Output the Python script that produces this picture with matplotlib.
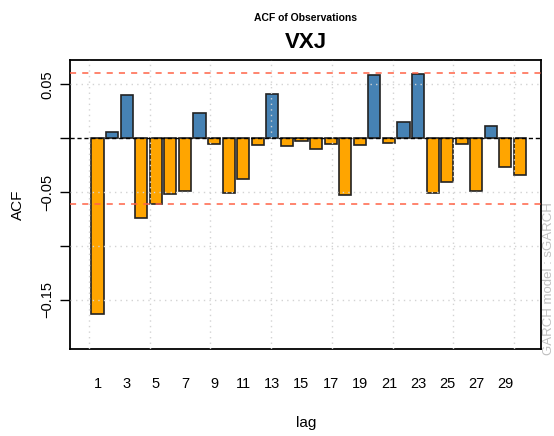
import matplotlib
matplotlib.use('Agg')
import matplotlib.pyplot as plt

plt.rcParams['font.family'] = ['Liberation Sans', 'DejaVu Sans']

lags = list(range(1, 31))
acf = [-0.1637, 0.0062, 0.0404, -0.0745, -0.0615, -0.0522, -0.0494, 0.0230,
       -0.0050, -0.0509, -0.0376, -0.0062, 0.0413, -0.0075, -0.0028, -0.0099,
       -0.0050, -0.0528, -0.0065, 0.0587, -0.0047, 0.0152, 0.0593, -0.0506,
       -0.0410, -0.0053, -0.0491, 0.0118, -0.0267, -0.0339]
conf = 0.0607
tick_lags = list(range(1, 31, 2))

# barplot-style positions: width 1, space 0.2
xpos = [0.7 + 1.2 * (k - 1) for k in lags]
colors = ['steelblue' if v > 0 else 'orange' for v in acf]

fig = plt.figure(figsize=(5.54, 4.36), dpi=100)
ax = fig.add_axes([70 / 554, 1 - 349 / 436, 471 / 554, 289 / 436])

ax.bar(xpos, acf, width=1.0, color=colors, edgecolor='#222222', linewidth=1.2, zorder=2)
ax.set_xlim(-1.565, 37.23)
ax.set_ylim(-0.1959, 0.0727)

# grid on top of bars
for gx in range(0, 40, 5):
    ax.axvline(gx, color='#D3D3D3', linestyle=(0, (1, 3)), linewidth=1, zorder=3)
for gy in [0.05, -0.05, -0.10, -0.15]:
    ax.axhline(gy, color='#D3D3D3', linestyle=(0, (1, 3)), linewidth=1, zorder=3)

ax.axhline(conf, color='tomato', linestyle=(0, (4, 4)), linewidth=1.1, zorder=4)
ax.axhline(-conf, color='tomato', linestyle=(0, (4, 4)), linewidth=1.1, zorder=4)
ax.axhline(0, color='black', linestyle=(0, (3, 2)), linewidth=1, zorder=4)

ax.set_yticks([0.05, 0, -0.05, -0.10, -0.15])
ax.set_yticklabels(['0.05', '', '\u22120.05', '', '\u22120.15'], rotation=90, va='center',
                   fontsize=10.5)
ax.tick_params(axis='y', length=7, width=1, pad=4)
ax.set_xticks([xpos[k - 1] for k in tick_lags])
ax.set_xticklabels([str(k) for k in tick_lags], fontsize=10.5)
ax.tick_params(axis='x', length=0, pad=20)
for s in ax.spines.values():
    s.set_linewidth(1.3)

fig.text(0.5 * (70 + 541) / 554, 1 - 18 / 436, 'ACF of Observations', ha='center', va='center',
         fontsize=7.5, fontweight='bold')
fig.text(0.5 * (70 + 541) / 554, 1 - 43 / 436, 'VXJ', ha='center', va='center',
         fontsize=16, fontweight='bold')
fig.text(18 / 554, 1 - 205 / 436, 'ACF', rotation=90, ha='center', va='center', fontsize=11)
fig.text(306 / 554, 1 - 423 / 436, 'lag', ha='center', va='center', fontsize=11)
fig.text(549 / 554, 1 - 279 / 436, 'GARCH model : sGARCH', rotation=90, ha='center',
         va='center', fontsize=9.5, color='#C0C0C0')

fig.savefig('out.png', dpi=100)
